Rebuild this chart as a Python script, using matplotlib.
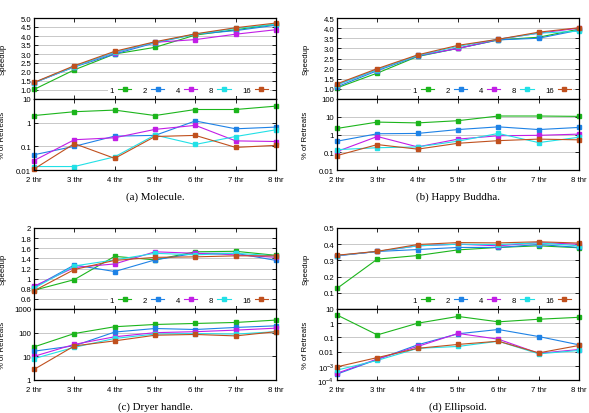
import numpy as np
import matplotlib
matplotlib.use("Agg")
import matplotlib.pyplot as plt

threads = ["2 thr", "3 thr", "4 thr", "5 thr", "6 thr", "7 thr", "8 thr"]
series = ["1", "2", "4", "8", "16"]
colors = ["#1cb51c", "#1e82e6", "#c21ee6", "#22e0e6", "#c0501e"]

# (a) Molecule
mol_speedup = [
    [1.03, 2.12, 3.00, 3.37, 4.05, 4.35, 4.65],
    [1.40, 2.28, 3.00, 3.62, 4.10, 4.30, 4.60],
    [1.40, 2.30, 3.08, 3.65, 3.80, 4.10, 4.35],
    [1.40, 2.30, 3.10, 3.65, 4.10, 4.42, 4.66],
    [1.42, 2.35, 3.15, 3.68, 4.12, 4.46, 4.72],
]
mol_retreats = [
    [2.0, 2.9, 3.4, 2.0, 3.6, 3.6, 5.0],
    [0.044, 0.10, 0.27, 0.29, 1.18, 0.55, 0.65],
    [0.025, 0.19, 0.23, 0.52, 0.77, 0.17, 0.16],
    [0.014, 0.014, 0.036, 0.30, 0.12, 0.26, 0.50],
    [0.011, 0.13, 0.031, 0.26, 0.29, 0.09, 0.11],
]

# (b) Happy Buddha
bud_speedup = [
    [1.05, 1.78, 2.60, 3.00, 3.42, 3.55, 3.95],
    [1.10, 1.90, 2.62, 3.00, 3.42, 3.50, 3.90],
    [1.20, 1.95, 2.65, 3.00, 3.45, 3.75, 4.00],
    [1.20, 1.95, 2.65, 3.10, 3.45, 3.75, 3.85],
    [1.25, 2.00, 2.68, 3.15, 3.45, 3.80, 4.02],
]
bud_retreats = [
    [2.2, 5.0, 4.5, 6.0, 11.0, 11.0, 10.5],
    [0.42, 1.1, 1.15, 1.9, 2.7, 1.9, 2.5],
    [0.11, 0.77, 0.20, 0.55, 0.85, 0.90, 1.05],
    [0.14, 0.18, 0.20, 0.42, 1.15, 0.35, 0.70],
    [0.065, 0.27, 0.15, 0.32, 0.45, 0.55, 0.50],
]

# (c) Dryer handle
dry_speedup = [
    [0.77, 0.98, 1.44, 1.37, 1.53, 1.54, 1.46],
    [0.83, 1.27, 1.14, 1.37, 1.50, 1.50, 1.36],
    [0.85, 1.22, 1.29, 1.53, 1.50, 1.47, 1.42],
    [0.81, 1.25, 1.37, 1.50, 1.47, 1.50, 1.45],
    [0.76, 1.18, 1.36, 1.42, 1.43, 1.45, 1.45],
]
dry_retreats = [
    [25, 92, 178, 222, 245, 270, 340],
    [16.5, 28, 106, 150, 136, 166, 195],
    [10, 32, 67, 100, 110, 128, 155],
    [8, 24, 57, 87, 92, 87, 110],
    [2.8, 27.5, 45, 78, 84, 73, 110],
]

# (d) Ellipsoid
ell_speedup = [
    [0.127, 0.308, 0.330, 0.365, 0.380, 0.390, 0.378],
    [0.328, 0.355, 0.367, 0.380, 0.380, 0.398, 0.380],
    [0.330, 0.355, 0.390, 0.400, 0.390, 0.410, 0.400],
    [0.330, 0.355, 0.390, 0.400, 0.398, 0.408, 0.390],
    [0.332, 0.356, 0.398, 0.410, 0.408, 0.415, 0.407],
]
ell_retreats = [
    [3.8, 0.15, 1.0, 3.0, 1.25, 1.9, 2.6],
    [2.6e-4, 2.8e-3, 0.030, 0.18, 0.36, 0.115, 0.030],
    [3.0e-4, 3.0e-3, 0.023, 0.19, 0.075, 0.0076, 0.014],
    [5.0e-4, 2.4e-3, 0.017, 0.023, 0.054, 0.0070, 0.012],
    [8.5e-4, 3.8e-3, 0.017, 0.032, 0.054, 0.0081, 0.027],
]

panels = [
    dict(caption="(a) Molecule.", speedup=mol_speedup, retreats=mol_retreats,
         sy=(0.5, 5.0), sticks=np.arange(1.0, 5.01, 0.5), sfmt="{:.1f}",
         ry=(0.01, 10), rticks=[0.01, 0.1, 1, 10], rlabels=["0.01", "0.1", "1", "10"]),
    dict(caption="(b) Happy Buddha.", speedup=bud_speedup, retreats=bud_retreats,
         sy=(0.5, 4.5), sticks=np.arange(1.0, 4.51, 0.5), sfmt="{:.1f}",
         ry=(0.01, 100), rticks=[0.01, 0.1, 1, 10, 100], rlabels=["0.01", "0.1", "1", "10", "100"]),
    dict(caption="(c) Dryer handle.", speedup=dry_speedup, retreats=dry_retreats,
         sy=(0.4, 2.0), sticks=np.arange(0.6, 2.01, 0.2), sfmt="{:.4g}",
         ry=(1, 1000), rticks=[1, 10, 100, 1000], rlabels=["1", "10", "100", "1000"]),
    dict(caption="(d) Ellipsoid.", speedup=ell_speedup, retreats=ell_retreats,
         sy=(0.0, 0.5), sticks=np.arange(0.1, 0.51, 0.1), sfmt="{:.1f}",
         ry=(1e-4, 10), rticks=[1e-4, 1e-3, 0.01, 0.1, 1, 10],
         rlabels=[r"10$^{-4}$", r"10$^{-3}$", "0.01", "0.1", "1", "10"]),
]

plt.rcParams["font.family"] = ["Liberation Sans", "DejaVu Sans"]
plt.rcParams["mathtext.fontset"] = "custom"
plt.rcParams["mathtext.rm"] = "Liberation Sans"
fs = 5.6

fig = plt.figure(figsize=(5.89, 4.14), dpi=100)
W, H = 589.0, 414.0
lefts = [34, 337, 34, 337]
tops = [19, 19, 229, 229]
aw = 242
x = np.arange(len(threads))


def style(ax):
    ax.tick_params(direction="in", length=3, width=0.6, labelsize=fs, pad=2,
                   top=True, right=True, which="both")
    ax.tick_params(axis="x", pad=4)
    ax.tick_params(which="minor", length=0)
    for s in ax.spines.values():
        s.set_linewidth(0.9)
    ax.grid(axis="y", color="#c8c8c8", linewidth=0.7)
    ax.set_axisbelow(True)
    ax.set_xlim(0, len(threads) - 1)
    ax.set_xticks(x)


for i, p in enumerate(panels):
    l, t = lefts[i], tops[i]
    ax1 = fig.add_axes([l / W, 1 - (t + 81) / H, aw / W, 81 / H])
    ax2 = fig.add_axes([l / W, 1 - (t + 152) / H, aw / W, 71 / H])

    for k, name in enumerate(series):
        ax1.plot(x, p["speedup"][k], color=colors[k], marker="s", markersize=2.6,
                 linewidth=0.8, label=name, clip_on=False)
        ax2.plot(x, p["retreats"][k], color=colors[k], marker="s", markersize=2.6,
                 linewidth=0.8, clip_on=False)

    style(ax1)
    ax1.set_ylim(*p["sy"])
    ax1.set_yticks(p["sticks"])
    ax1.set_yticklabels([p["sfmt"].format(v) for v in p["sticks"]])
    ax1.set_xticklabels([])
    ax1.set_ylabel("Speedup", fontsize=fs)
    ax1.yaxis.set_label_coords(-0.115, 0.5)
    leg = ax1.legend(loc="center right", bbox_to_anchor=(0.975, 0.11), ncol=5,
                     markerfirst=False, fontsize=fs, frameon=True, handlelength=1.7,
                     handletextpad=0.5, columnspacing=1.5, borderpad=0.25,
                     borderaxespad=0)
    leg.get_frame().set_facecolor("white")
    leg.get_frame().set_edgecolor("none")
    leg.get_frame().set_alpha(1)

    style(ax2)
    ax2.set_yscale("log")
    ax2.set_ylim(*p["ry"])
    ax2.set_yticks(p["rticks"])
    ax2.set_yticklabels(p["rlabels"])
    ax2.set_xticklabels(threads)
    ax2.set_ylabel("% of Retreats", fontsize=fs)
    ax2.yaxis.set_label_coords(-0.115, 0.5)

    fig.text((l + aw / 2) / W, 1 - (t + 178) / H, p["caption"],
             family=["Liberation Serif", "DejaVu Serif"], fontsize=7.8,
             ha="center", va="center")

fig.savefig("out.png", dpi=100)
